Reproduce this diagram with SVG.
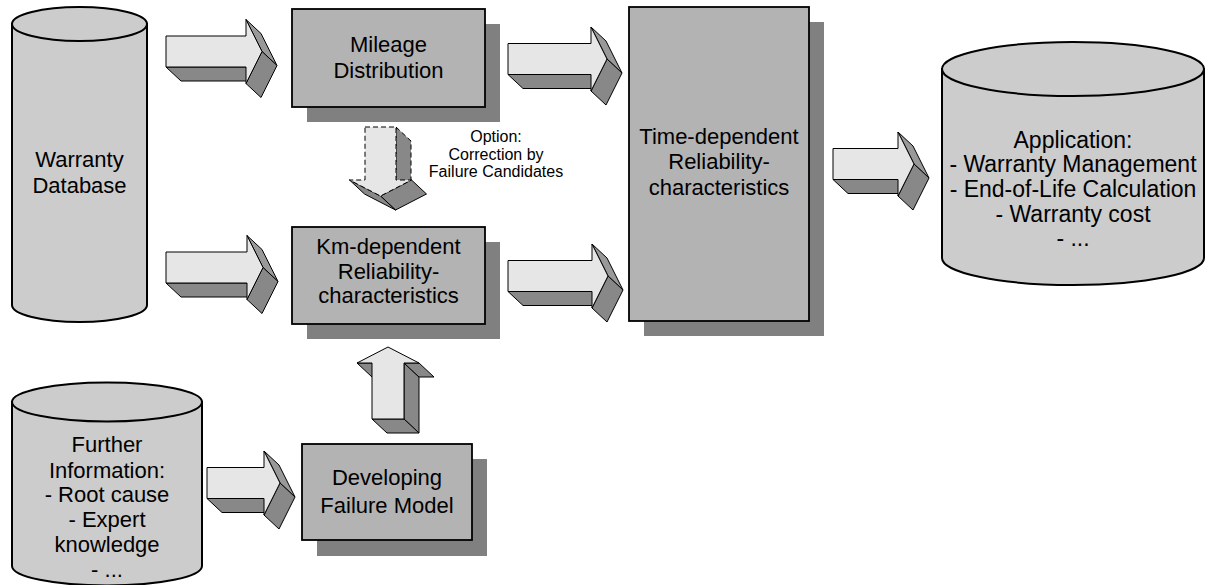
<svg xmlns="http://www.w3.org/2000/svg" xmlns:xlink="http://www.w3.org/1999/xlink" width="1208" height="585" viewBox="0 0 1208 585">
<style>
.cyl{fill:#cccccc;stroke:#000;stroke-width:2}
.box{fill:#b3b3b3;stroke:#000;stroke-width:1.8}
.shadow{fill:#808080}
.front{fill:#e6e6e6;stroke:#000;stroke-width:1;stroke-linejoin:round}
.side{fill:#888888;stroke:#000;stroke-width:1;stroke-linejoin:round}
.side2{fill:#999999;stroke:#000;stroke-width:1;stroke-linejoin:round}
.dash{stroke-dasharray:5,3}
text{font-family:"Liberation Sans",Arial,sans-serif;font-size:22px;fill:#000;text-anchor:middle}
.small{font-size:16px}
.big{font-size:23px}
</style>
<defs>
<g id="head3d">
<polygon class="side2" points="0,-32 16,0 31,14 15,-18"/>
<polygon class="side" points="16,0 0,32 15,46 31,14"/>
</g>
</defs>

<g id="warranty-db">
<path class="cyl" d="M12,24 V305 A67.5,17 0 0 0 147,305 V24 Z"/>
<ellipse class="cyl" cx="79.5" cy="24" rx="67.5" ry="17"/>
<text x="79.5" y="167">Warranty</text>
<text x="79.5" y="193">Database</text>
</g>

<g id="further-info">
<path class="cyl" d="M12,402 V566 A95,19.5 0 0 0 202,566 V402 Z"/>
<ellipse class="cyl" cx="107" cy="402" rx="95" ry="19.5"/>
<text x="107" y="452">Further</text>
<text x="107" y="478">Information:</text>
<text x="107" y="502">- Root cause</text>
<text x="107" y="527">- Expert</text>
<text x="107" y="552">knowledge</text>
<text x="107" y="577">- ...</text>
</g>

<g id="application">
<path class="cyl" d="M942,69 V258 A131,27 0 0 0 1204,258 V69 Z"/>
<ellipse class="cyl" cx="1073" cy="69" rx="131" ry="27"/>
<text class="big" x="1073" y="148">Application:</text>
<text class="big" x="1073" y="172">- Warranty Management</text>
<text class="big" x="1073" y="197">- End-of-Life Calculation</text>
<text class="big" x="1073" y="222">- Warranty cost</text>
<text class="big" x="1073" y="246">- ...</text>
</g>

<g id="mileage">
<rect class="shadow" x="307" y="24" width="193" height="98"/>
<rect class="box" x="292" y="9" width="193" height="98"/>
<text x="388.5" y="52">Mileage</text>
<text x="388.5" y="78">Distribution</text>
</g>

<g id="km-dependent">
<rect class="shadow" x="307" y="242" width="193" height="97"/>
<rect class="box" x="292" y="227" width="193" height="97"/>
<text x="388.5" y="254">Km-dependent</text>
<text x="388.5" y="278.5">Reliability-</text>
<text x="388.5" y="303">characteristics</text>
</g>

<g id="time-dependent">
<rect class="shadow" x="644" y="22" width="180" height="314"/>
<rect class="box" x="629" y="7" width="180" height="314"/>
<text x="719" y="144">Time-dependent</text>
<text x="719" y="169">Reliability-</text>
<text x="719" y="195">characteristics</text>
</g>

<g id="developing">
<rect class="shadow" x="317" y="459" width="170" height="97"/>
<rect class="box" x="302" y="444" width="170" height="96"/>
<text x="387" y="485">Developing</text>
<text x="387" y="513">Failure Model</text>
</g>

<g id="connectors">
<g transform="translate(246,51.5)">
<polygon class="side" points="-80,15.5 0,15.5 15,29.5 -65,29.5"/>
<use xlink:href="#head3d"/>
<polygon class="front" points="-80,-15.5 0,-15.5 0,-32 16,0 0,32 0,15.5 -80,15.5"/>
</g>
<g transform="translate(591,59)">
<polygon class="side" points="-83,15.5 0,15.5 15,29.5 -68,29.5"/>
<use xlink:href="#head3d"/>
<polygon class="front" points="-83,-15.5 0,-15.5 0,-32 16,0 0,32 0,15.5 -83,15.5"/>
</g>
<g transform="translate(247,267.5)">
<polygon class="side" points="-81,15.5 0,15.5 15,29.5 -66,29.5"/>
<use xlink:href="#head3d"/>
<polygon class="front" points="-81,-15.5 0,-15.5 0,-32 16,0 0,32 0,15.5 -81,15.5"/>
</g>
<g transform="translate(592,276)">
<polygon class="side" points="-84,15.5 0,15.5 15,29.5 -69,29.5"/>
<use xlink:href="#head3d"/>
<polygon class="front" points="-84,-15.5 0,-15.5 0,-32 16,0 0,32 0,15.5 -84,15.5"/>
</g>
<g transform="translate(898,164)">
<polygon class="side" points="-65,15.5 0,15.5 15,29.5 -50,29.5"/>
<use xlink:href="#head3d"/>
<polygon class="front" points="-65,-15.5 0,-15.5 0,-32 16,0 0,32 0,15.5 -65,15.5"/>
</g>
<g transform="translate(264,483)">
<polygon class="side" points="-57,15.5 0,15.5 15,29.5 -42,29.5"/>
<use xlink:href="#head3d"/>
<polygon class="front" points="-57,-15.5 0,-15.5 0,-32 16,0 0,32 0,15.5 -57,15.5"/>
</g>
<g id="up-arrow">
<polygon class="side" points="404,363 404,419 419,433 419,377"/>
<polygon class="side" points="372,419 404,419 419,433 387,433"/>
<polygon class="side" points="357,363 372,363 387,377 372,377"/>
<polygon class="side" points="404,363 419,363 434,377 419,377"/>
<polygon class="front" points="388,347 419,363 404,363 404,419 372,419 372,363 357,363"/>
</g>
<g id="dashed-arrow">
<polygon class="side dash" points="396,127 411,141 411,194 396,180"/>
<polygon class="side" points="411.5,180 380.5,196 395.5,210 426.5,194"/>
<polygon class="side" points="349.5,180 380.5,196 395.5,210 364.5,194"/>
<polygon class="front dash" points="365,127 396,127 396,180 411.5,180 380.5,196 349.5,180 365,180"/>
</g>
<text class="small" x="496" y="142">Option:</text>
<text class="small" x="496" y="160">Correction by</text>
<text class="small" x="496" y="177">Failure Candidates</text>
</g>
</svg>
